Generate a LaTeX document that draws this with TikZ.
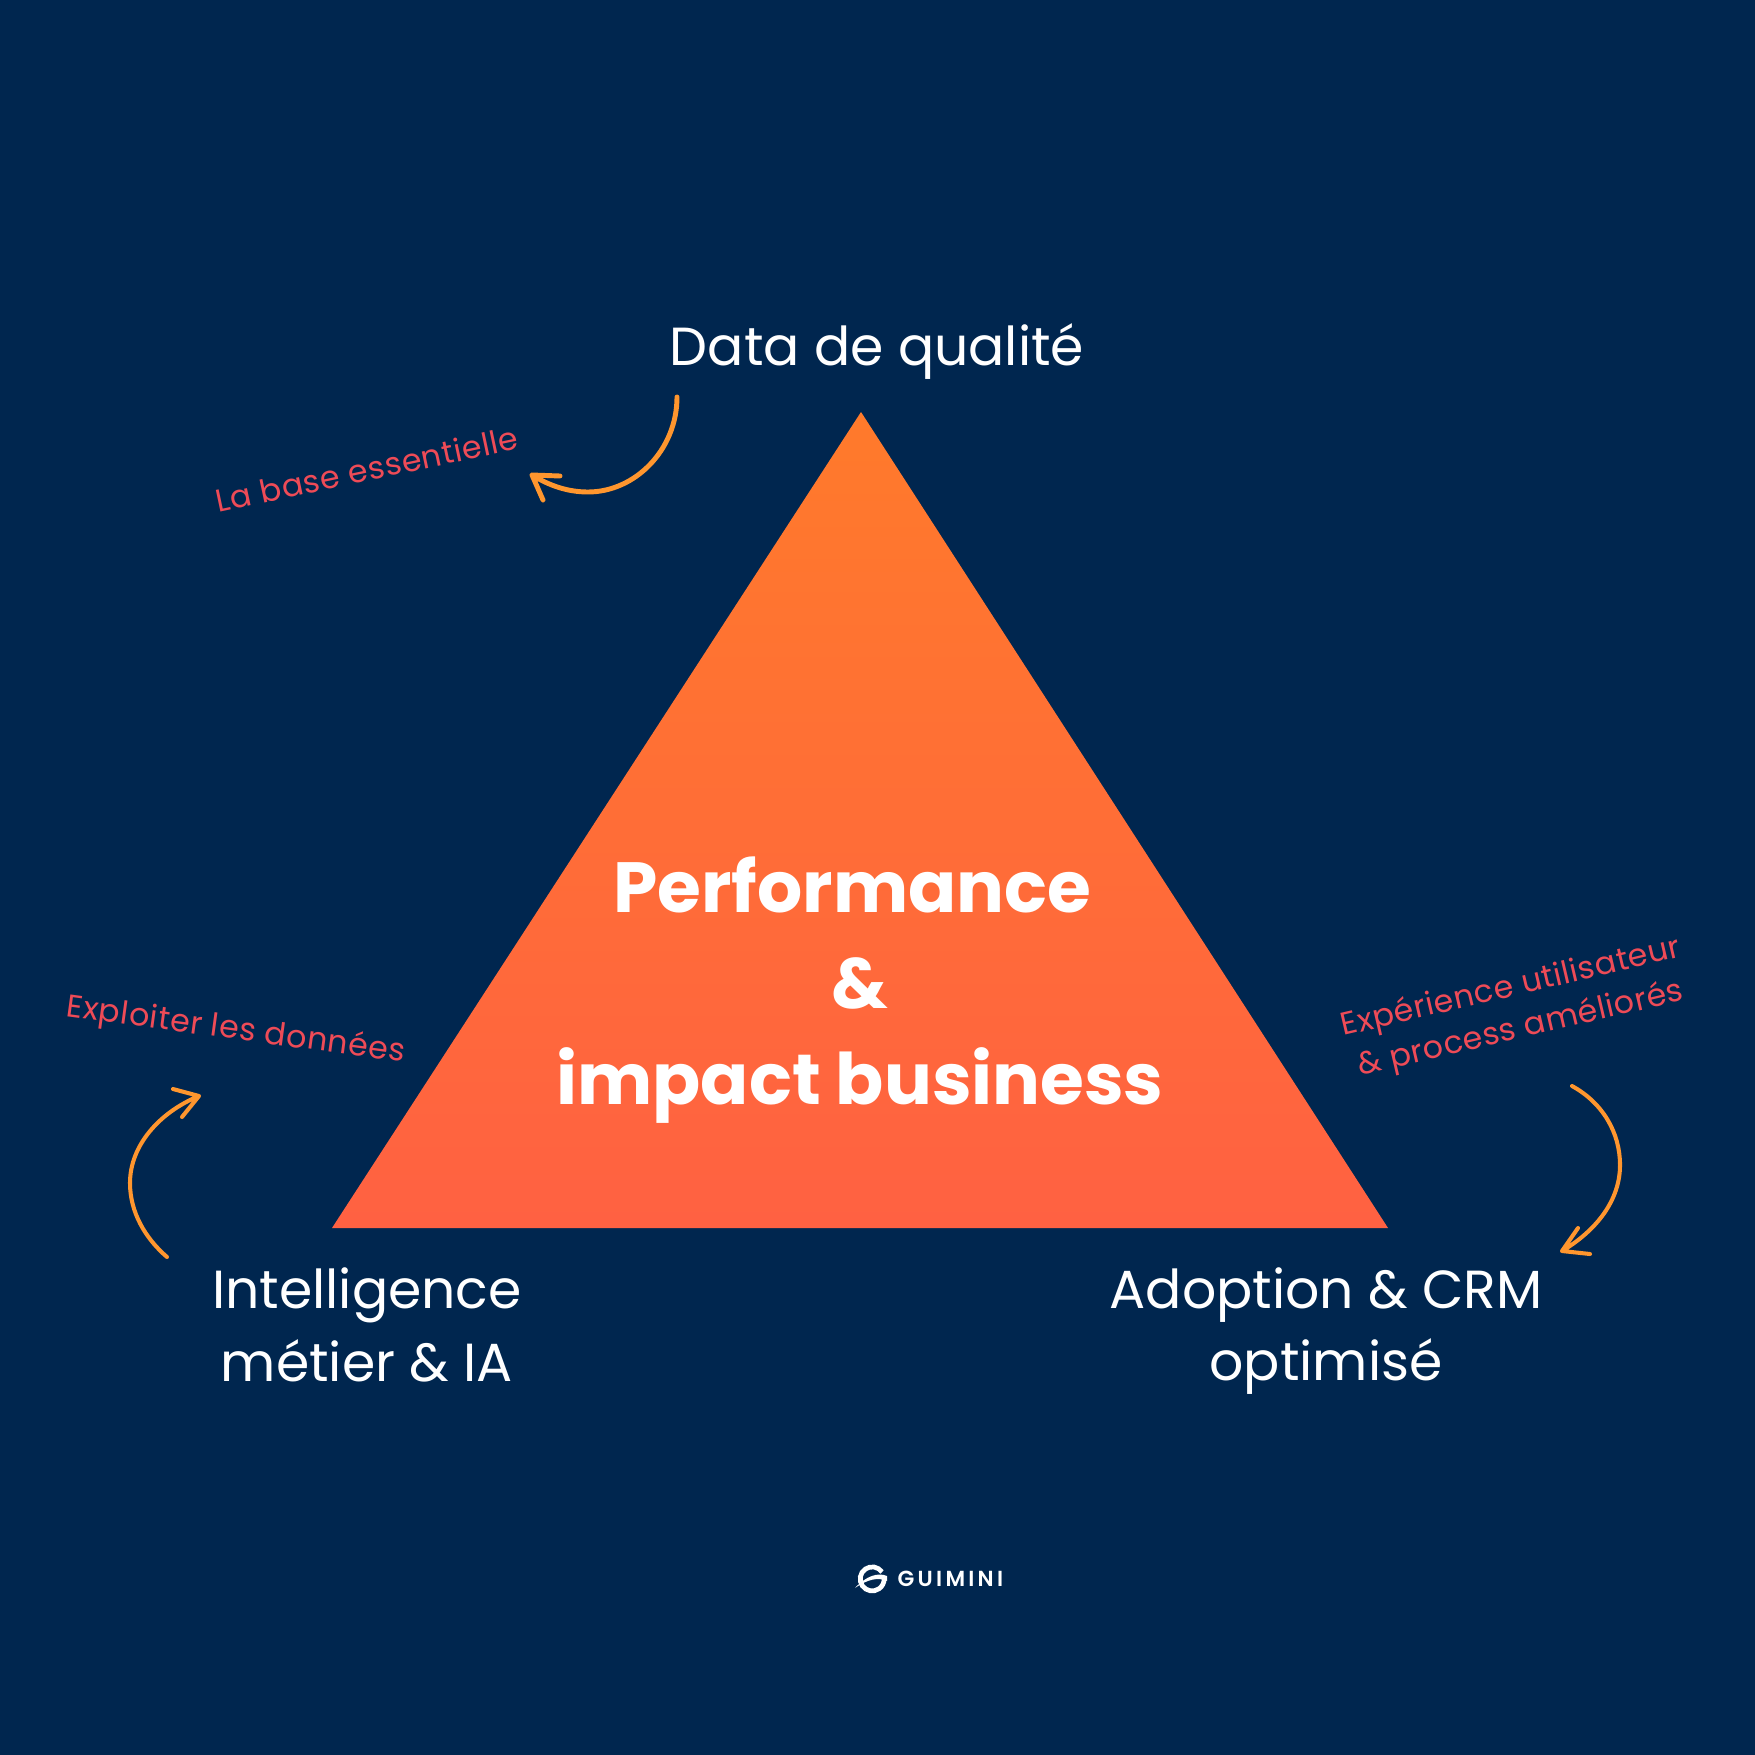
\documentclass[tikz,border=0pt]{standalone}
\usepackage{fontspec}
\setmainfont{Poppins}
\newfontface\guiminifont[LetterSpace=15]{Poppins SemiBold}
\newfontface\notefont[LetterSpace=2]{Poppins}
\usetikzlibrary{arrows.meta}
\definecolor{fondbleu}{HTML}{00264F}
\definecolor{hauttri}{HTML}{FF7A2B}
\definecolor{bastri}{HTML}{FF6142}
\definecolor{rosenote}{HTML}{EE4B57}
\definecolor{orangefleche}{HTML}{FF962E}
\tikzset{
  pole/.style={text=white, align=center, font=\fontsize{15.25}{20.6}\selectfont},
  note/.style={text=rosenote, align=center, font=\fontsize{9}{12.2}\notefont},
  fleche/.style={draw=orangefleche, line width=1.15pt, line cap=round, line join=round},
}
\begin{document}
\begin{tikzpicture}[x=0.01cm,y=-0.01cm]

\useasboundingbox (0,0) rectangle (1755,1755);
\fill [fondbleu] (0,0) rectangle (1755,1755);

\path (861,412) coordinate(A);
\path (332,1228) coordinate(B);
\path (1388,1228) coordinate(C);
\shade [top color=hauttri, bottom color=bastri] (A)--(B)--(C)--cycle;

\node (perf) [text=white, align=center, font=\fontsize{20.2}{27.2}\bfseries\selectfont] at (860,990) {Performance\kern 4.4pt\\\&\\impact business};

\node (data) [pole] at (877,352) {Data de qualité};
\node (metier) [pole] at (367,1325) {Intelligence\\métier \& IA};
\node (crm) [pole] at (1326,1331) {Adoption \& CRM\\optimisé};

\node (base) [note, rotate=12] at (367,469) {La base essentielle};
\node (exploiter) [note, rotate=-7.7] at (236,1031) {Exploiter les données};
\node (experience) [note, rotate=13.2] at (1516,1009) {Expérience utilisateur\\\& process améliorés};

\path (677,397) coordinate(P1);
\path (588,492) coordinate(P2);
\path (532,475) coordinate(P3);
\path (560,476) coordinate(P4);
\path (543,500) coordinate(P5);
\draw [fleche, line width=1.4pt] (P1) .. controls (677,450) and (635,492) .. (P2) .. controls (568,492) and (550,486) .. (P3) -- (P4) (P3) -- (P5);

\path (1572,1086) coordinate(Q1);
\path (1620,1165) coordinate(Q2);
\path (1562,1251) coordinate(Q3);
\path (1578,1228) coordinate(Q4);
\path (1590,1254) coordinate(Q5);
\draw [fleche] (Q1) .. controls (1603,1103) and (1620,1133) .. (Q2) .. controls (1620,1200) and (1597,1230) .. (Q3) -- (Q4) (Q3) -- (Q5);

\path (167,1257) coordinate(R1);
\path (130,1183) coordinate(R2);
\path (199,1096) coordinate(R3);
\path (173,1089) coordinate(R4);
\path (182,1117) coordinate(R5);
\draw [fleche] (R1) .. controls (145,1238) and (130,1212) .. (R2) .. controls (130,1145) and (160,1112) .. (R3) -- (R4) (R3) -- (R5);

\draw [white, line width=1.35pt] (882,1572) arc (-35:-358:12);
\fill [white] (855,1588) .. controls (866,1576) and (878,1572) .. (887,1576) -- (887,1581) .. controls (878,1577) and (868,1579) .. (855,1588) -- cycle;
\node (guimini) [text=white, anchor=west, inner sep=0pt, font=\fontsize{6.2}{8}\guiminifont] at (897,1579) {GUIMINI};

\end{tikzpicture}
\end{document}
